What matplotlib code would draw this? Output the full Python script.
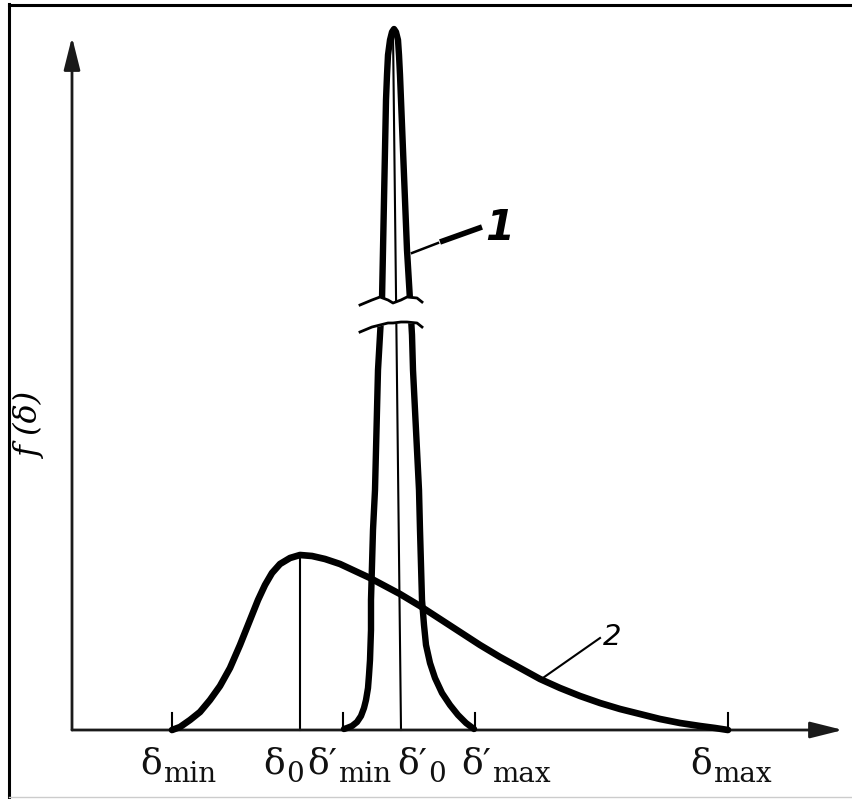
import matplotlib.pyplot as plt
import numpy as np

# broad distribution (curve 2)
delta_2 = [100, 108, 118, 128, 138, 148, 158, 168, 178, 186, 193, 200, 208, 218, 228,
           240, 253, 268, 283, 298, 313, 328, 348, 368, 388, 408, 428, 448, 468,
           488, 508, 528, 548, 568, 588, 608, 628, 643, 656]
f_2 = [0, 3, 10, 18, 30, 44, 62, 85, 110, 130, 145, 157, 166, 172, 175,
       174, 171, 166, 159, 152, 144, 136, 124, 111, 98, 85, 73, 62, 51,
       42, 34, 27, 21, 16, 11, 7, 4, 2, 0]

# narrow distribution (curve 1)
delta_1 = [272, 275, 280, 285, 289, 292, 294, 296, 297, 298, 299, 299, 300, 301, 303,
           304, 305, 306, 308, 310, 311, 312, 313, 314, 315, 316, 318, 320, 322,
           324, 326, 327, 328, 329, 331, 333, 335, 338, 340, 341, 343, 345, 347,
           348, 349, 350, 352, 354, 358, 363, 370, 378, 386, 394, 402]
f_1 = [1, 2, 4, 8, 14, 22, 30, 42, 55, 70, 100, 130, 165, 200, 240,
       280, 320, 360, 395, 430, 480, 530, 580, 630, 655, 675, 690, 698, 701,
       698, 690, 675, 655, 630, 580, 530, 480, 430, 395, 360, 320, 280, 240,
       200, 165, 130, 105, 85, 67, 52, 37, 25, 15, 7, 1]

# marked points on the delta axis
tick_pos = {'dmin': 100, 'd0': 228, 'dmin_p': 271, 'd0_p': 329, 'dmax_p': 403, 'dmax': 656}
tick_main = ['δ', 'δ', 'δ′', 'δ′', 'δ′', 'δ']
tick_sub = ['min', '0', 'min', '0', 'max', 'max']
main_left = [68, 191, 235, 325, 389, 618]

fig = plt.figure(figsize=(8.53, 7.99), dpi=100)
ax = fig.add_axes([0, 0, 1, 1])
ax.set_xlim(-72, 781)
ax.set_ylim(-69, 730)
ax.axis('off')

# axes with arrows
arrow = dict(arrowstyle='-|>,head_length=1.0,head_width=0.25', lw=2.0,
             color='#1a1a1a', mutation_scale=20, shrinkA=0, shrinkB=0)
ax.annotate('', xy=(771, 0), xytext=(0, 0), arrowprops=arrow)
ax.annotate('', xy=(0, 693), xytext=(0, 0), arrowprops=arrow)

# curves
ax.plot(delta_2, f_2, color='black', lw=4.8, solid_capstyle='round', solid_joinstyle='round', zorder=3)
ax.plot(delta_1, f_1, color='black', lw=4.6, solid_capstyle='round', solid_joinstyle='round', zorder=3)

# vertical lines at the maxima
ax.plot([tick_pos['d0'], tick_pos['d0']], [0, 175], color='black', lw=1.5, zorder=2)
ax.plot([tick_pos['d0_p'], 321], [0, 698], color='black', lw=1.5, zorder=2)

# short ticks at the limits
for key in ['dmin', 'dmin_p', 'dmax_p', 'dmax']:
    ax.plot([tick_pos[key]] * 2, [0, 17], color='black', lw=1.5, zorder=2)

# tick labels: delta and its subscript as two texts, subscript right after delta
renderer = fig.canvas.get_renderer()
inv = ax.transData.inverted()
for m, s, xm in zip(tick_main, tick_sub, main_left):
    t = ax.text(xm, -43, m, fontsize=26, ha='left', va='baseline',
                family='DejaVu Serif', color='#111111')
    bb = t.get_window_extent(renderer)
    x_end = inv.transform((bb.x1, bb.y0))[0]
    ax.text(x_end + 1, -52, s, fontsize=20, ha='left', va='baseline',
            family='DejaVu Serif', color='#111111')

# axis break on curve 1
xb = np.array([288, 300, 308, 316, 321, 329, 335, 345, 350])
yb_top = np.array([425, 430, 433, 430, 427, 430, 433, 432, 428])
yb_bot = np.array([398, 403, 405, 407, 407, 408, 408, 407, 403])
ax.fill_between(xb[1:-1], yb_bot[1:-1], yb_top[1:-1], color='white', zorder=4)
ax.plot(xb, yb_top, color='black', lw=2.0, zorder=5)
ax.plot(xb, yb_bot, color='black', lw=2.0, zorder=5)

# curve numbers
ax.plot([340, 366], [477, 487], color='black', lw=1.8, zorder=3)
ax.plot([368, 410], [488, 503], color='black', lw=4.0, solid_capstyle='butt', zorder=3)
ax.text(428, 502, '1', fontsize=30, fontweight='bold', style='italic',
        ha='center', va='center', family='DejaVu Sans')
ax.plot([468, 528], [50, 92], color='black', lw=1.5, zorder=3)
ax.text(540, 93, '2', fontsize=21, style='italic', ha='center', va='center',
        family='DejaVu Sans')

ax.text(-42, 305, 'f (δ)', fontsize=23, style='italic', rotation=90,
        ha='center', va='center', family='DejaVu Serif')

# frame edges
ax.plot([-63, -63], [-69, 726], color='black', lw=2.2, clip_on=False)
ax.plot([-63, 781], [725, 725], color='black', lw=2.2, clip_on=False)
ax.plot([-63, 781], [-67, -67], color='#cccccc', lw=1.0, clip_on=False)

fig.savefig('out.png', dpi=100)
